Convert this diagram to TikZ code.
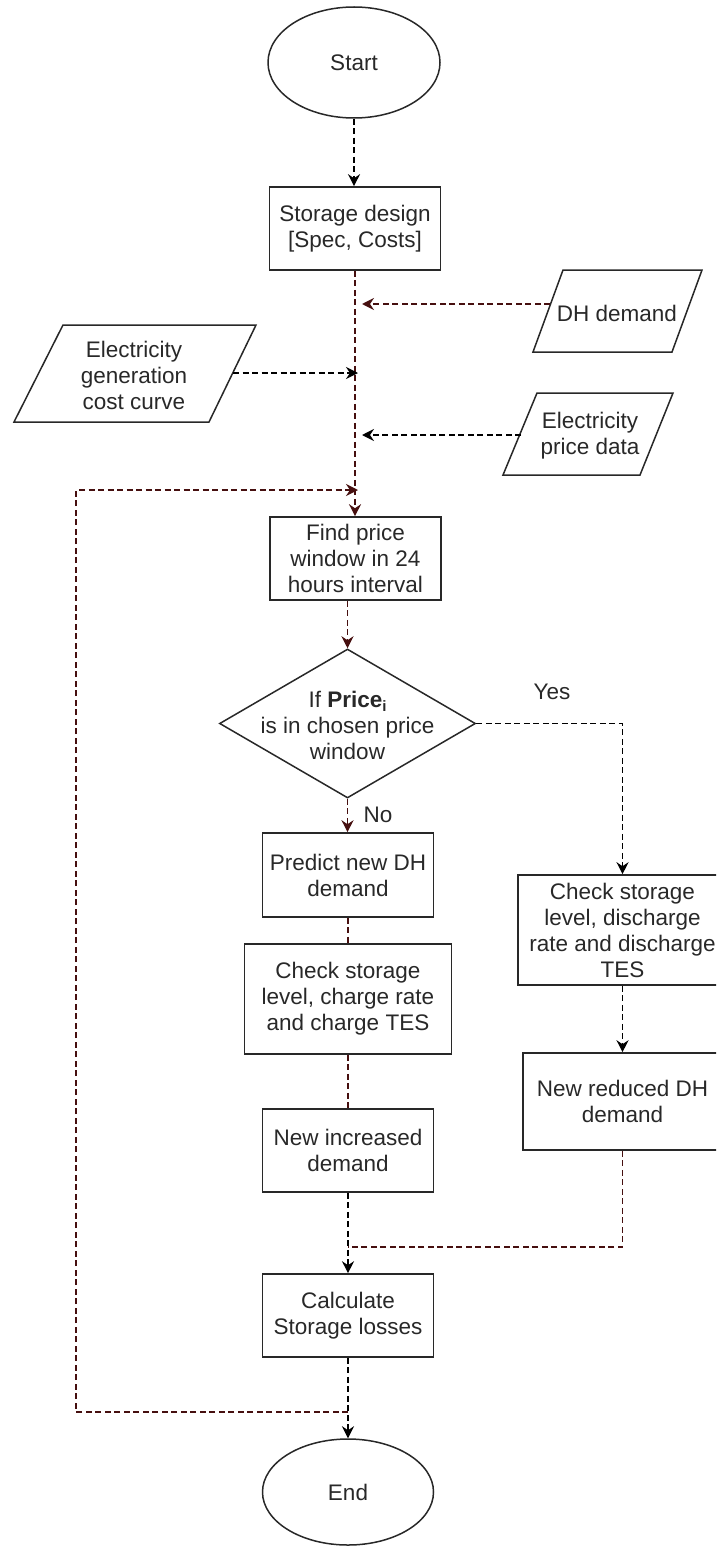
\documentclass[tikz,border=0pt]{standalone}
\usepackage{fontspec}
\setmainfont{Liberation Sans}
\usetikzlibrary{shapes.geometric,arrows.meta}
\definecolor{dred}{RGB}{70,15,15}
\definecolor{ink}{RGB}{40,40,40}
\begin{document}
\begin{tikzpicture}[x=1pt,y=-1pt,
  font=\fontsize{22.5}{26}\selectfont,
  proc/.style={draw=ink, text=ink, line width=1.6pt, rectangle, minimum width=171pt, minimum height=83pt, inner sep=0pt, align=center},
  term/.style={draw=ink, text=ink, line width=1.5pt, ellipse, minimum width=172pt, minimum height=111pt, inner sep=0pt},
  dec/.style={draw=ink, line width=1.5pt, diamond, minimum width=256pt, minimum height=149pt, inner sep=0pt},
  io/.style={draw=ink, line width=1.5pt},
  lbl/.style={text=ink, align=center, inner sep=0pt},
  conn/.style={line width=1.5pt, dash pattern=on 6pt off 3.5pt},
  blk/.style={conn, draw=black},
  redline/.style={conn, draw=dred},
  arr/.style={-{Stealth[length=12pt,width=12pt,inset=4pt,sep=0pt]}},
]
\useasboundingbox (0,0) rectangle (716,1546);
\clip (0,0) rectangle (716,1546);

% terminals and process boxes
\node[term] (start) at (354,62.5) {Start};
\node[proc] (design) at (355,228.5) {Storage design\\{[Spec, Costs]}};
\node[proc] (find) at (355.5,558.5) {Find price\\window in 24\\hours interval};
\node[dec] (dia) at (347.5,723.5) {};
\node[lbl] (diatext) at (347.5,725) {If \textbf{Price\raisebox{-4pt}{\fontsize{15}{15}\selectfont i}}\\is in chosen price\\window};
\node[proc, minimum height=84pt] (pred) at (348,875) {Predict new DH\\demand};
\node[proc, minimum width=207pt, minimum height=110pt] (chk) at (348,999) {Check storage\\level, charge rate\\and charge TES};
\node[proc] (inc) at (348,1150.5) {New increased\\demand};
\node[proc] (calc) at (348,1315.5) {Calculate\\Storage losses};
\node[term, minimum width=171pt, minimum height=106pt] (end) at (348,1492) {End};
\node[proc, minimum width=209pt, minimum height=110pt] (dis) at (622.5,930) {Check storage\\level, discharge\\rate and discharge\\TES};
\node[proc, minimum width=199pt, minimum height=97pt] (red) at (622.5,1101.5) {New reduced DH\\demand};

% input parallelograms
\draw[io] (563,270) -- (702,270) -- (672,352) -- (533,352) -- cycle;
\node[lbl] (dh) at (617,313) {DH demand};
\draw[io] (63,325) -- (256,325) -- (209,422) -- (14,422) -- cycle;
\node[lbl] (gen) at (134,375) {Electricity\\generation\\cost curve};
\draw[io] (537,393) -- (673,393) -- (640,475) -- (503,475) -- cycle;
\node[lbl] (price) at (590,436) {Electricity\\price data};

% connector points
\coordinate (dhL) at (550,304);
\coordinate (genR) at (233,373);
\coordinate (priceL) at (521,435);
\coordinate (jdh) at (362,304);
\coordinate (jgen) at (358,373);
\coordinate (jprice) at (362,435);
\coordinate (jloop) at (358,490);
\coordinate (lp) at (348,1412);
\coordinate (lc1) at (76,1412);
\coordinate (lc2) at (76,490);
\coordinate (mg) at (348,1247);

% connectors
\draw[blk,arr] (start.south) -- (start.south |- design.north);
\draw[redline,arr] (design.south) -- (design.south |- find.north);
\draw[redline,arr] (dhL) -- (jdh);
\draw[blk,arr] (genR) -- (jgen);
\draw[blk,arr] (priceL) -- (jprice);
\draw[redline,arr] (lp) -- (lc1) -- (lc2) -- (jloop);
\draw[redline,arr] (find.south -| dia.north) -- (dia.north);
\draw[blk,arr] (dia.east) -| (dis.north);
\draw[redline,arr] (dia.south) -- (dia.south |- pred.north);
\draw[redline] (pred.south) -- (chk.north);
\draw[redline] (chk.south) -- (inc.north);
\draw[blk,arr] (inc.south) -- (calc.north);
\draw[blk,arr] (dis.south) -- (red.north);
\draw[redline] (red.south) |- (mg);
\draw[blk,arr] (calc.south) -- (end.north);

% labels
\node[lbl] (yes) at (552,692) {Yes};
\node[lbl] (no) at (378,815) {No};
\end{tikzpicture}
\end{document}
